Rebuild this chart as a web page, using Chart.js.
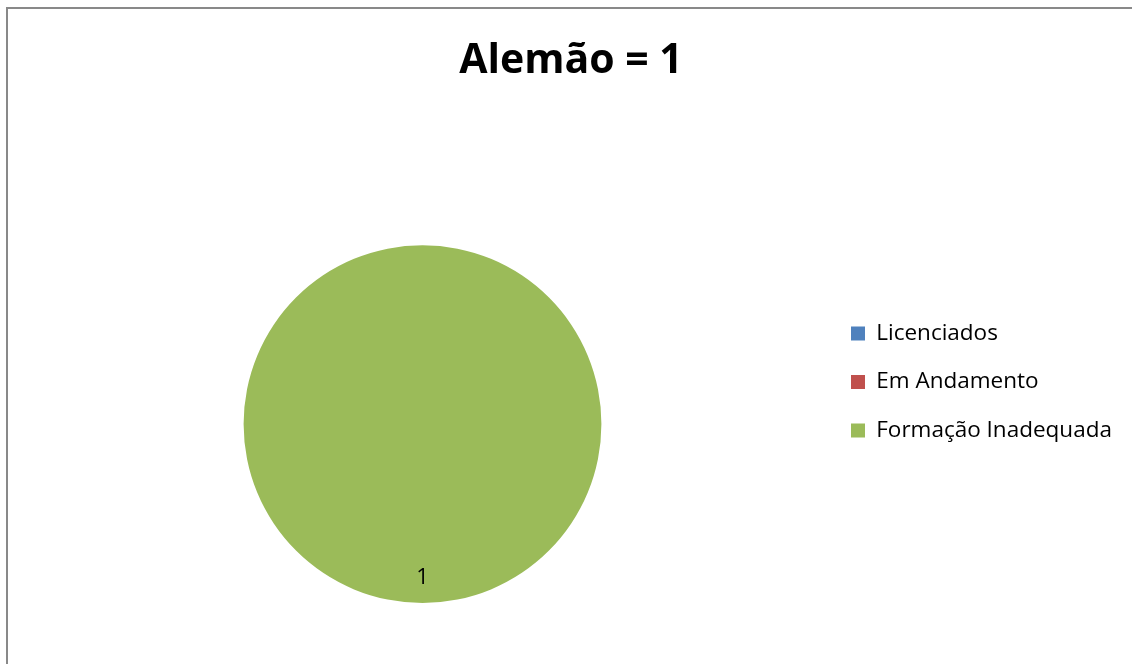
<!DOCTYPE html>
<html>
<head>
<meta charset="utf-8">
<script src="https://cdn.jsdelivr.net/npm/chart.js@4.4.0/dist/chart.umd.min.js"></script>
<style>
  html, body { margin: 0; padding: 0; background: #fff; overflow: hidden; }
  #frame { position: absolute; left: 6px; top: 7px; width: 1200px; height: 700px;
           border-left: 2px solid #898989; border-top: 2px solid #898989; }
  canvas { position: absolute; left: 0; top: 0; }
</style>
</head>
<body>
<div id="frame"></div>
<canvas id="myChart" width="1132" height="664"></canvas>
<script>
//chart data
const chartTitle = 'Alemão = 1';
const labels = ['Licenciados', 'Em Andamento', 'Formação Inadequada'];
const values = [0, 0, 1];
const colors = ['#4F81BD', '#C0504D', '#9BBB59'];

const fontFamily = "'Open Sans', sans-serif";
const legendFont = { family: fontFamily, size: 22.5 };

//work out legend width so the pie lands where it should
const measure = document.createElement('canvas').getContext('2d');
measure.font = legendFont.size + 'px ' + fontFamily;
const widest = Math.max(...labels.map(t => measure.measureText(t).width));
const legendWidth = 26 + 14 + legendFont.size / 2 + widest + 10;
const padRight = Math.max(0, 1132 - 825 - legendWidth);

//value labels inside the slices
const sliceLabels = {
  id: 'sliceLabels',
  afterDatasetsDraw(chart) {
    const ctx = chart.ctx;
    const meta = chart.getDatasetMeta(0);
    ctx.save();
    ctx.font = '22px ' + fontFamily;
    ctx.fillStyle = '#000';
    ctx.textAlign = 'center';
    ctx.textBaseline = 'middle';
    meta.data.forEach((arc, i) => {
      if (!values[i]) return;
      const p = arc.getProps(['x', 'y', 'startAngle', 'endAngle', 'outerRadius'], true);
      const mid = (p.startAngle + p.endAngle) / 2;
      const r = p.outerRadius - 25;
      ctx.fillText(String(values[i]), p.x + Math.cos(mid) * r, p.y + Math.sin(mid) * r);
    });
    ctx.restore();
  }
};

const config = {
  type: 'pie',
  data: {
    labels: labels,
    datasets: [{
      data: values,
      backgroundColor: colors,
      borderWidth: 0,
      clip: false
    }]
  },
  options: {
    responsive: false,
    animation: false,
    events: [],
    layout: { padding: { top: 0, bottom: 61, left: 20, right: padRight } },
    plugins: {
      title: {
        display: true,
        text: chartTitle,
        color: '#000',
        font: { family: fontFamily, size: 41, weight: 'bold' },
        padding: { top: 37, bottom: 159 }
      },
      legend: {
        position: 'right',
        align: 'start',
        fullSize: false,
        title: { display: true, text: '', font: { size: 1, lineHeight: 1 }, padding: { top: 50, bottom: 0 } },
        labels: {
          boxWidth: 14,
          boxHeight: 14,
          padding: 26,
          color: '#000',
          font: legendFont
        }
      },
      tooltip: { enabled: false }
    }
  },
  plugins: [sliceLabels]
};

let myChart = new Chart(document.getElementById('myChart'), config);
</script>
</body>
</html>
